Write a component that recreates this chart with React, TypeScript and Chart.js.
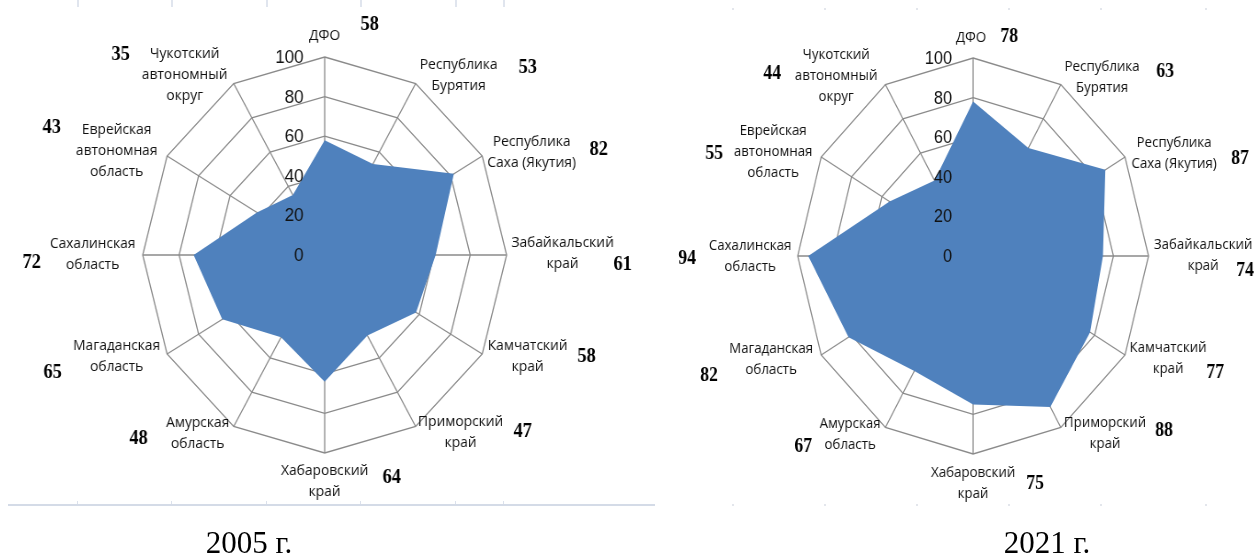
import React, { useEffect, useRef } from "react";
import { Chart, registerables } from "chart.js";

Chart.register(...registerables);

// ---------- data ----------
const CATEGORIES: string[][] = [
  ["ДФО"],
  ["Республика", "Бурятия"],
  ["Республика", "Саха (Якутия)"],
  ["Забайкальский", "край"],
  ["Камчатский", "край"],
  ["Приморский", "край"],
  ["Хабаровский", "край"],
  ["Амурская", "область"],
  ["Магаданская", "область"],
  ["Сахалинская", "область"],
  ["Еврейская", "автономная", "область"],
  ["Чукотский", "автономный", "округ"],
];

const VALUES_2005: number[] = [58, 53, 82, 61, 58, 47, 64, 48, 65, 72, 43, 35];
const VALUES_2021: number[] = [78, 63, 87, 74, 77, 88, 75, 67, 82, 94, 55, 44];

const SCALE_MIN = 0;
const SCALE_MAX = 100;
const SCALE_STEP = 20;

const CAPTION_2005 = "2005 г.";
const CAPTION_2021 = "2021 г.";

// ---------- layout (screen px offsets from the radar centre) ----------
type Off = [number, number];

const LABEL_OFF_2005: Off[] = [
  [0, -219], [134, -180], [207, -103], [238, -2], [203, 101], [136, 177],
  [0, 226], [-127, 178], [-208, 101], [-232, -1], [-208, -104], [-140, -180],
];
const NUMBER_OFF_2005: Off[] = [
  [45, -230], [203, -187], [274, -105], [298, 10], [262, 102], [198, 177],
  [67, 223], [-186, 184], [-272, 118], [-293, 8], [-273, -127], [-204, -200],
];
const LABEL_OFF_2021: Off[] = [
  [-2, -218], [129, -179], [201, -103], [230, -1], [195, 102], [132, 177],
  [0, 227], [-123, 178], [-202, 103], [-223, 0], [-200, -104], [-137, -180],
];
const NUMBER_OFF_2021: Off[] = [
  [36, -219], [192, -184], [267, -97], [272, 15], [242, 117], [191, 175],
  [62, 228], [-170, 191], [-264, 120], [-286, 3], [-259, -102], [-201, -182],
];

const FILL = "#4f81bd";
const GRID = "#8a8a8a";
const TEXT = "#111";
const LINE_H = 21;
const CANVAS_W = 700;
const CANVAS_H = 557;

function makeOverlay(k: number, labelOff: Off[], numOff: Off[], values: number[]) {
  return {
    id: "overlayText",
    afterDraw(chart: any) {
      const r = chart.scales.r;
      const ctx: CanvasRenderingContext2D = chart.ctx;
      const cx = r.xCenter;
      const cy = r.yCenter;
      ctx.save();
      // radial tick labels, left of the vertical axis
      ctx.font = '18.5px "Liberation Sans", Arial, sans-serif';
      ctx.fillStyle = TEXT;
      ctx.textAlign = "right";
      ctx.textBaseline = "middle";
      r.ticks.forEach((t: any) => {
        const d = r.getDistanceFromCenterForValue(t.value);
        ctx.fillText(String(t.value), cx - 21 / k, cy - d + 1);
      });
      // category labels
      ctx.font = '15px "Open Sans", "Noto Sans", sans-serif';
      ctx.textAlign = "center";
      (chart.data.labels as any[]).forEach((lab, i) => {
        const lines: string[] = Array.isArray(lab) ? lab : [String(lab)];
        const [dx, dy] = labelOff[i];
        const x = cx + dx / k;
        const y0 = cy + dy - ((lines.length - 1) * LINE_H) / 2;
        lines.forEach((ln, j) => ctx.fillText(ln, x, y0 + j * LINE_H));
      });
      // value numbers
      ctx.font = 'bold 20px "Liberation Serif", "Times New Roman", serif';
      ctx.fillStyle = "#000";
      values.forEach((v, i) => {
        const [dx, dy] = numOff[i];
        ctx.fillText(String(v), cx + dx / k, cy + dy);
      });
      ctx.restore();
    },
  };
}

interface PanelProps {
  values: number[];
  labelOff: Off[];
  numOff: Off[];
  squash: number;
  centerX: number;
  centerY: number;
  radius: number;
}

function RadarPanel({ values, labelOff, numOff, squash, centerX, centerY, radius }: PanelProps) {
  const ref = useRef<HTMLCanvasElement>(null);
  useEffect(() => {
    const chart = new Chart(ref.current as HTMLCanvasElement, {
      type: "radar",
      data: {
        labels: CATEGORIES as any,
        datasets: [
          {
            data: values,
            backgroundColor: FILL,
            borderColor: FILL,
            borderWidth: 0,
            pointRadius: 0,
            pointHoverRadius: 0,
            fill: true,
          } as any,
        ],
      },
      options: {
        animation: false,
        responsive: false,
        maintainAspectRatio: false,
        events: [],
        layout: {
          padding: {
            top: centerY - radius,
            bottom: CANVAS_H - centerY - radius,
            left: 0,
            right: 0,
          },
        },
        plugins: {
          legend: { display: false },
          tooltip: { enabled: false },
        },
        scales: {
          r: {
            min: SCALE_MIN,
            max: SCALE_MAX,
            z: 1,
            ticks: { stepSize: SCALE_STEP, display: false },
            pointLabels: { display: false },
            grid: { color: GRID, lineWidth: 1.3 },
            angleLines: { color: GRID, lineWidth: 1.3 },
          } as any,
        },
      },
      plugins: [makeOverlay(squash, labelOff, numOff, values)],
    });
    return () => chart.destroy();
  }, []);
  const left = centerX - (squash * CANVAS_W) / 2;
  return (
    <div
      style={{
        position: "absolute",
        left,
        top: 0,
        width: CANVAS_W,
        height: CANVAS_H,
        transform: `scaleX(${squash})`,
        transformOrigin: "0 0",
      }}
    >
      <canvas ref={ref} width={CANVAS_W} height={CANVAS_H} style={{ display: "block" }} />
    </div>
  );
}

const FRAME_TICKS_LEFT = [77, 171, 266, 360, 455, 503];
const FRAME_DOTS_RIGHT = [732, 824, 916, 1008, 1100, 1205];

export default function App() {
  const caption = (text: string, cx: number) => (
    <div
      style={{
        position: "absolute",
        left: cx - 100,
        width: 200,
        top: 527,
        height: 31,
        lineHeight: "31px",
        textAlign: "center",
        fontFamily: '"Liberation Serif", "Times New Roman", serif',
        fontSize: 31,
        color: "#000",
      }}
    >
      {text}
    </div>
  );
  return (
    <div
      style={{
        position: "absolute",
        left: 0,
        top: 0,
        width: 1260,
        height: 557,
        overflow: "hidden",
        background: "#fff",
      }}
    >
      {/* faint frame remnants */}
      <div style={{ position: "absolute", left: 8, top: 504, width: 647, height: 2, background: "#d4dbe7" }} />
      {FRAME_TICKS_LEFT.map((x) => (
        <React.Fragment key={x}>
          <div style={{ position: "absolute", left: x, top: 0, width: 2, height: 7, background: "#e0e5ee" }} />
          <div style={{ position: "absolute", left: x, top: 501, width: 1, height: 3, background: "#dbe1ec" }} />
        </React.Fragment>
      ))}
      {FRAME_DOTS_RIGHT.map((x) => (
        <React.Fragment key={x}>
          <div style={{ position: "absolute", left: x, top: 8, width: 2, height: 2, background: "#e3e6ec" }} />
          <div style={{ position: "absolute", left: x, top: 504, width: 2, height: 2, background: "#e3e6ec" }} />
        </React.Fragment>
      ))}
      <RadarPanel
        values={VALUES_2005}
        labelOff={LABEL_OFF_2005}
        numOff={NUMBER_OFF_2005}
        squash={0.919}
        centerX={325}
        centerY={255}
        radius={198}
      />
      <RadarPanel
        values={VALUES_2021}
        labelOff={LABEL_OFF_2021}
        numOff={NUMBER_OFF_2021}
        squash={0.886}
        centerX={973}
        centerY={256}
        radius={198}
      />
      {caption(CAPTION_2005, 249)}
      {caption(CAPTION_2021, 1047)}
    </div>
  );
}
